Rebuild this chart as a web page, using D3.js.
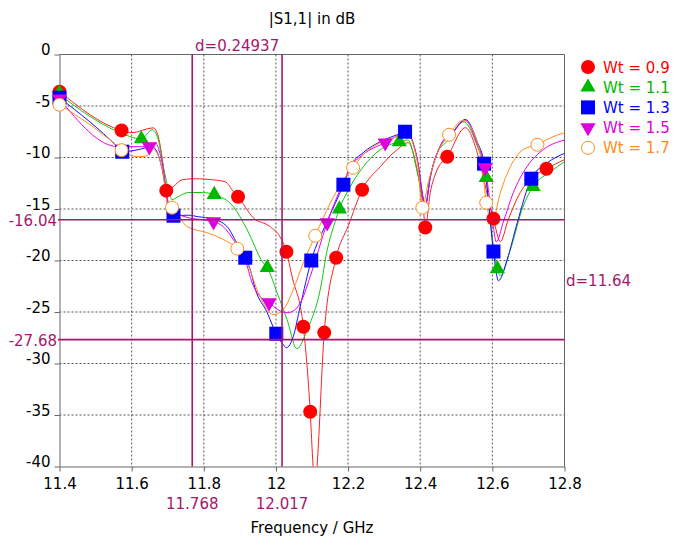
<!DOCTYPE html>
<html lang="en">
<head>
    <meta charset="utf-8">
    <script src="https://d3js.org/d3.v7.min.js"></script>
    <style>
        body {
            margin: 0px;
            background: #fff;
        }
        text {
            font-family: "DejaVu Sans", Verdana, sans-serif;
            font-size: 15px;
        }
        .grid line {
            stroke: #555;
            stroke-dasharray: 2,2;
        }
        .axis path, .axis line {
            stroke: #666;
        }
        .axis text {
            fill: #000;
            font-size: 15px;
            font-family: "DejaVu Sans", Verdana, sans-serif;
        }
    </style>
</head>
<body>
<svg id="chart"></svg>
<script>
// Axis ticks and labels
var freqTicks = [11.4, 11.6, 11.8, 12, 12.2, 12.4, 12.6, 12.8];
var freqTickLabels = ["11.4", "11.6", "11.8", "12", "12.2", "12.4", "12.6", "12.8"];
var dbTicks = [0, -5, -10, -15, -20, -25, -30, -35, -40];
var dbTickLabels = ["0", "-5", "-10", "-15", "-20", "-25", "-30", "-35", "-40"];

// Series names
var seriesNames = ["Wt = 0.9", "Wt = 1.1", "Wt = 1.3", "Wt = 1.5", "Wt = 1.7"];

// Curves [GHz, dB]
var wt09Curve = [[11.400,-3.6],[11.572,-7.37],[11.601,-7.59],[11.660,-7.12],[11.674,-8.0],[11.688,-10.9],
    [11.696,-13.22],[11.715,-12.83],[11.740,-12.16],[11.776,-12.06],[11.823,-12.16],[11.859,-12.35],
    [11.882,-13.3],[11.895,-13.81],[11.937,-15.84],[11.984,-16.72],[12.011,-17.69],[12.029,-19.15],
    [12.045,-21.6],[12.076,-26.43],[12.095,-34.68],[12.103,-40],[12.108,-42.5],[12.114,-40],
    [12.134,-27.0],[12.167,-19.73],[12.201,-16.6],[12.239,-13.13],[12.289,-10.9],[12.336,-9.24],
    [12.366,-8.56],[12.395,-11.9],[12.409,-15.1],[12.414,-16.8],[12.428,-13.4],[12.447,-11.2],
    [12.475,-9.92],[12.525,-7.11],[12.558,-9.53],[12.575,-11.9],[12.589,-14.1],[12.603,-15.94],
    [12.622,-18.17],[12.644,-16.04],[12.677,-13.42],[12.714,-11.86],[12.750,-11.09],[12.800,-10.2]];
var wt11Curve = [[11.400,-3.9],[11.563,-7.5],[11.627,-8.2],[11.657,-7.3],[11.674,-8.3],[11.688,-10.9],
    [11.702,-13.1],[11.712,-14.1],[11.729,-13.8],[11.757,-13.4],[11.796,-13.4],[11.829,-13.6],
    [11.882,-14.78],[11.920,-17.0],[11.964,-20.2],[11.976,-20.7],[12.003,-23.1],[12.031,-25.75],
    [12.058,-28.56],[12.087,-26.7],[12.123,-22.8],[12.142,-19.0],[12.159,-16.8],[12.176,-15.0],
    [12.206,-12.83],[12.242,-10.9],[12.289,-9.24],[12.342,-8.48],[12.366,-8.3],[12.395,-11.9],
    [12.414,-14.6],[12.428,-11.9],[12.447,-9.6],[12.475,-8.4],[12.519,-6.53],[12.558,-8.9],
    [12.583,-11.96],[12.594,-16.0],[12.614,-20.8],[12.622,-21.5],[12.650,-18.95],[12.685,-14.78],
    [12.713,-12.83],[12.761,-11.38],[12.800,-10.4]];
var wt13Curve = [[11.400,-4.2],[11.563,-9.05],[11.574,-9.44],[11.618,-9.24],[11.657,-8.95],[11.685,-11.18],
    [11.702,-14.78],[11.716,-15.65],[11.757,-15.6],[11.785,-15.75],[11.823,-15.94],[11.865,-16.72],
    [11.891,-18.27],[11.915,-19.73],[11.929,-20.9],[11.943,-22.8],[11.976,-25.07],[11.992,-26.43],
    [12.001,-27.11],[12.020,-28.17],[12.029,-28.47],[12.048,-27.4],[12.067,-24.5],[12.098,-20.0],
    [12.142,-16.2],[12.187,-12.64],[12.206,-10.89],[12.242,-9.53],[12.289,-8.47],[12.336,-7.79],
    [12.358,-7.5],[12.370,-7.79],[12.392,-10.21],[12.409,-14.1],[12.414,-14.8],[12.428,-11.86],
    [12.455,-8.95],[12.491,-7.59],[12.525,-6.3],[12.558,-8.47],[12.577,-10.6],[12.586,-13.13],
    [12.603,-19.13],[12.617,-21.96],[12.641,-19.92],[12.669,-16.33],[12.708,-12.06],[12.753,-10.5],
    [12.800,-9.6]];
var wt15Curve = [[11.400,-4.3],[11.563,-8.95],[11.601,-8.95],[11.649,-8.95],[11.665,-8.56],[11.685,-10.6],
    [11.702,-14.4],[11.721,-15.3],[11.757,-15.84],[11.796,-16.04],[11.827,-16.23],[11.854,-16.72],
    [11.882,-17.98],[11.915,-19.92],[11.934,-22.16],[11.956,-23.5],[11.981,-24.1],[12.006,-24.78],
    [12.031,-25.07],[12.053,-24.78],[12.072,-23.81],[12.095,-21.57],[12.142,-16.33],[12.187,-12.4],
    [12.206,-11.0],[12.242,-9.7],[12.303,-8.57],[12.364,-7.6],[12.392,-10.2],[12.414,-14.6],
    [12.428,-11.9],[12.455,-8.9],[12.491,-7.5],[12.525,-6.4],[12.558,-8.7],[12.580,-10.99],
    [12.600,-16.04],[12.611,-18.2],[12.630,-16.3],[12.658,-13.42],[12.696,-10.89],[12.741,-9.24],
    [12.800,-8.3]];
var wt17Curve = [[11.400,-4.87],[11.563,-9.0],[11.572,-9.29],[11.618,-9.92],[11.643,-9.83],[11.660,-9.24],
    [11.685,-11.18],[11.702,-14.78],[11.712,-14.87],[11.754,-16.72],[11.809,-17.3],[11.865,-18.17],
    [11.893,-18.85],[11.920,-20.21],[11.948,-22.84],[11.976,-24.78],[11.992,-25.26],[12.020,-24.78],
    [12.048,-22.84],[12.076,-20.21],[12.109,-17.6],[12.151,-14.4],[12.187,-12.2],[12.214,-10.99],
    [12.242,-9.73],[12.289,-8.56],[12.336,-7.98],[12.364,-7.79],[12.392,-10.5],[12.406,-14.87],
    [12.422,-12.45],[12.447,-9.63],[12.480,-7.79],[12.519,-6.4],[12.558,-8.47],[12.575,-11.86],
    [12.583,-14.39],[12.591,-15.65],[12.600,-16.23],[12.622,-13.42],[12.650,-10.89],[12.685,-9.24],
    [12.725,-8.76],[12.761,-8.08],[12.800,-7.6]];

// Marked sample points
var wt09Marks = [[11.400,-3.61],[11.572,-7.37],[11.696,-13.22],[11.895,-13.81],[12.029,-19.15],[12.076,-26.43],
    [12.095,-34.68],[12.134,-27.0],[12.167,-19.73],[12.239,-13.13],[12.414,-16.8],[12.475,-9.92],
    [12.603,-15.94],[12.750,-11.09]];
var wt11Marks = [[11.400,-3.75],[11.627,-8.2],[11.829,-13.6],[11.976,-20.7],[12.176,-15.0],[12.342,-8.48],
    [12.583,-11.96],[12.614,-20.8],[12.713,-12.83]];
var wt13Marks = [[11.400,-4.2],[11.574,-9.44],[11.716,-15.65],[11.915,-19.73],[12.001,-27.11],[12.098,-20.0],
    [12.187,-12.64],[12.358,-7.5],[12.577,-10.6],[12.603,-19.13],[12.708,-12.06]];
var wt15Marks = [[11.400,-4.3],[11.649,-8.95],[11.827,-16.23],[11.981,-24.1],[12.142,-16.33],[12.303,-8.57],
    [12.580,-10.99]];
var wt17Marks = [[11.400,-4.87],[11.572,-9.29],[11.712,-14.87],[11.893,-18.85],[12.109,-17.6],[12.214,-10.99],
    [12.406,-14.87],[12.480,-7.79],[12.583,-14.39],[12.725,-8.76]];

// Marker cursors
var freqCursors = [11.768, 12.017];
var freqCursorLabels = ["11.768", "12.017"];
var dbCursors = [-16.04, -27.68];
var dbCursorLabels = ["-16.04", "-27.68"];
var freqDeltaLabel = "d=0.24937";
var dbDeltaLabel = "d=11.64";

var width = 674;
var height = 541;
var cursorColor = "#a5176c";

var series = [
    {name: seriesNames[0], curve: wt09Curve, marks: wt09Marks, color: "#ff0000", line: "#ff2020", shape: "circle"},
    {name: seriesNames[1], curve: wt11Curve, marks: wt11Marks, color: "#00b800", line: "#10c810", shape: "up"},
    {name: seriesNames[2], curve: wt13Curve, marks: wt13Marks, color: "#0000ff", line: "#1010ff", shape: "square"},
    {name: seriesNames[3], curve: wt15Curve, marks: wt15Marks, color: "#dd00dd", line: "#ee00ee", shape: "down"},
    {name: seriesNames[4], curve: wt17Curve, marks: wt17Marks, color: "#ff8c1a", line: "#ff8c1a", shape: "open"}
];

var svg = d3.select("#chart")
    .attr("width", width)
    .attr("height", height);

var x = d3.scaleLinear().domain([11.4, 12.8]).range([59.5, 564.5]);
var y = d3.scaleLinear().domain([0, -40]).range([54.5, 466.5]);

// Grid
var grid = svg.append("g").attr("class", "grid");
grid.selectAll(".vg")
    .data(freqTicks.slice(1, -1))
    .enter().append("line")
    .attr("x1", function(d) { return x(d); })
    .attr("x2", function(d) { return x(d); })
    .attr("y1", y(0))
    .attr("y2", y(-40));
grid.selectAll(".hg")
    .data(dbTicks.slice(1, -1))
    .enter().append("line")
    .attr("x1", x(11.4))
    .attr("x2", x(12.8))
    .attr("y1", function(d) { return y(d); })
    .attr("y2", function(d) { return y(d); });

// Axes
svg.append("g")
    .attr("class", "axis")
    .attr("transform", "translate(0," + y(-40) + ")")
    .call(d3.axisBottom(x)
        .tickValues(freqTicks)
        .tickFormat(function(d, i) { return freqTickLabels[i]; })
        .tickSize(5)
        .tickSizeOuter(0)
        .tickPadding(7));

var yAxis = svg.append("g")
    .attr("class", "axis")
    .attr("transform", "translate(" + x(11.4) + ",0)")
    .call(d3.axisLeft(y)
        .tickValues(dbTicks)
        .tickFormat(function(d, i) { return dbTickLabels[i]; })
        .tickSize(5)
        .tickSizeOuter(0)
        .tickPadding(4));
yAxis.selectAll("text").attr("dy", "0em");

// Top and right frame
svg.append("path")
    .attr("d", "M" + x(11.4) + "," + y(0) + "H" + x(12.8) + "V" + y(-40))
    .attr("fill", "none")
    .attr("stroke", "#666");

// Clip for curves
svg.append("clipPath").attr("id", "plotclip")
    .append("rect")
    .attr("x", x(11.4))
    .attr("y", y(0))
    .attr("width", x(12.8) - x(11.4))
    .attr("height", y(-40) - y(0));

var line = d3.line()
    .x(function(d) { return x(d[0]); })
    .y(function(d) { return y(d[1]); })
    .curve(d3.curveMonotoneX);

svg.append("g")
    .attr("clip-path", "url(#plotclip)")
    .selectAll("path")
    .data(series)
    .enter().append("path")
    .attr("d", function(s) { return line(s.curve); })
    .attr("fill", "none")
    .attr("stroke", function(s) { return s.line; })
    .attr("stroke-width", 1);

// Marker shapes
function drawMark(sel, shape, color) {
    if (shape === "circle") {
        sel.append("circle").attr("r", 7).attr("fill", color);
    } else if (shape === "open") {
        sel.append("circle").attr("r", 6.5).attr("fill", "#fff").attr("stroke", color).attr("stroke-width", 1);
    } else if (shape === "square") {
        sel.append("rect").attr("x", -7).attr("y", -7).attr("width", 14).attr("height", 14).attr("fill", color);
    } else if (shape === "up") {
        sel.append("path").attr("d", d3.symbol().type(d3.symbolTriangle).size(100)).attr("fill", color);
    } else {
        sel.append("path").attr("d", d3.symbol().type(d3.symbolTriangle).size(100))
            .attr("transform", "rotate(180)").attr("fill", color);
    }
}

series.forEach(function(s) {
    var g = svg.append("g");
    g.selectAll("g")
        .data(s.marks)
        .enter().append("g")
        .attr("transform", function(d) { return "translate(" + x(d[0]) + "," + y(d[1]) + ")"; })
        .each(function() { drawMark(d3.select(this), s.shape, s.color); });
});

// Cursor lines
svg.selectAll(".vc")
    .data(freqCursors)
    .enter().append("line")
    .attr("x1", function(d) { return x(d); })
    .attr("x2", function(d) { return x(d); })
    .attr("y1", y(0))
    .attr("y2", y(-40))
    .attr("stroke", cursorColor)
    .attr("stroke-width", 1.6);
svg.selectAll(".hc")
    .data(dbCursors)
    .enter().append("line")
    .attr("x1", x(11.4) - 1.5)
    .attr("x2", x(12.8))
    .attr("y1", function(d) { return y(d); })
    .attr("y2", function(d) { return y(d); })
    .attr("stroke", cursorColor)
    .attr("stroke-width", 1.6);

svg.selectAll(".vcl")
    .data(freqCursors)
    .enter().append("text")
    .attr("x", function(d) { return x(d); })
    .attr("y", 509)
    .attr("text-anchor", "middle")
    .attr("fill", cursorColor)
    .text(function(d, i) { return freqCursorLabels[i]; });
svg.selectAll(".hcl")
    .data(dbCursors)
    .enter().append("text")
    .attr("x", 57)
    .attr("y", function(d) { return y(d) + 6.5; })
    .attr("text-anchor", "end")
    .attr("fill", cursorColor)
    .text(function(d, i) { return dbCursorLabels[i]; });

svg.append("text")
    .attr("x", (x(freqCursors[0]) + x(freqCursors[1])) / 2)
    .attr("y", 50.5)
    .attr("text-anchor", "middle")
    .attr("fill", cursorColor)
    .text(freqDeltaLabel);
svg.append("text")
    .attr("x", 566)
    .attr("y", (y(dbCursors[0]) + y(dbCursors[1])) / 2 + 6)
    .attr("fill", cursorColor)
    .text(dbDeltaLabel);

// Title and axis label
svg.append("text")
    .attr("x", (x(11.4) + x(12.8)) / 2)
    .attr("y", 24)
    .attr("text-anchor", "middle")
    .text("|S1,1| in dB");
svg.append("text")
    .attr("x", (x(11.4) + x(12.8)) / 2)
    .attr("y", 533)
    .attr("text-anchor", "middle")
    .text("Frequency / GHz");

// Legend
var legend = svg.append("g");
series.forEach(function(s, i) {
    var row = legend.append("g")
        .attr("transform", "translate(588," + (67 + i * 20.2) + ")");
    drawMark(row, s.shape, s.color);
    row.append("text")
        .attr("x", 15)
        .attr("y", 5.5)
        .attr("fill", s.color)
        .text(s.name);
});
</script>
</body>
</html>
